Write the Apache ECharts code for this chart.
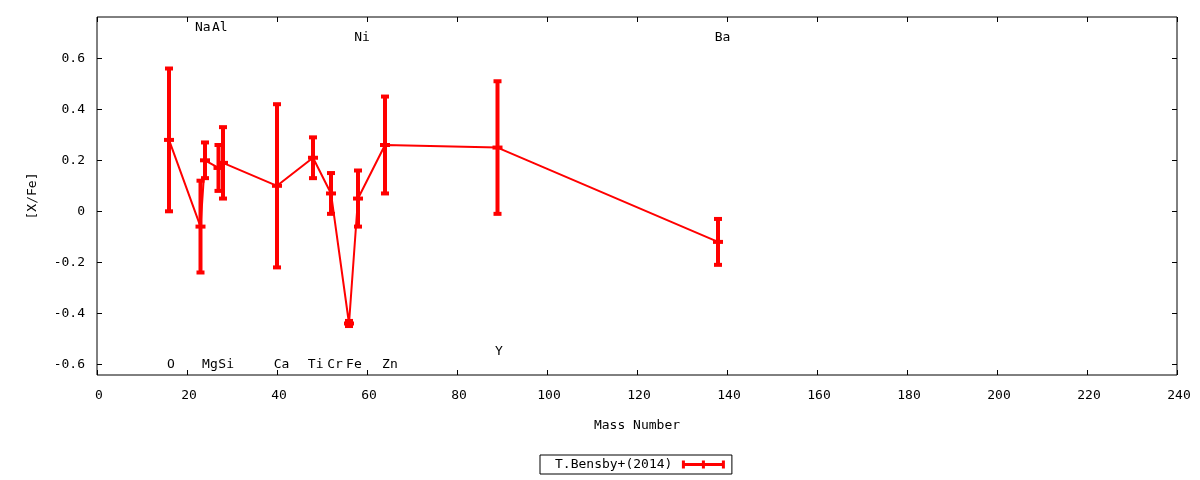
<!DOCTYPE html>
<html><head><meta charset="utf-8">
<script src="https://cdn.jsdelivr.net/npm/echarts@6/dist/echarts.min.js"></script>
<style>html,body{margin:0;padding:0;background:#fff}#c{width:1200px;height:480px}</style>
</head><body><div id="c"></div>
<script>
// Element data (mass number, [X/Fe], error)
const elements    = ['O','Na','Mg','Al','Si','Ca','Ti','Cr','Fe','Ni','Zn','Y','Ba'];
const massNumbers = [16, 23, 24, 27, 28, 40, 48, 52, 56, 58, 64, 89, 138];
const xFe         = [0.28, -0.06, 0.20, 0.17, 0.19, 0.10, 0.21, 0.07, -0.44, 0.05, 0.26, 0.25, -0.12];
const xFeErr      = [0.28, 0.18, 0.07, 0.09, 0.14, 0.32, 0.08, 0.08, 0.01, 0.11, 0.19, 0.26, 0.09];
// element label positions (data coords)
const labelX = [16.4, 23.5, 25.1, 27.3, 28.7, 41.0, 48.6, 52.9, 57.1, 58.9, 65.1, 89.3, 139.0];
const labelY = [-0.6, 0.72, -0.6, 0.72, -0.6, -0.6, -0.6, -0.6, -0.6, 0.68, -0.6, -0.55, 0.68];
// ticks
const xTicks = [0, 20, 40, 60, 80, 100, 120, 140, 160, 180, 200, 220, 240];
const yTicks = [-0.6, -0.4, -0.2, 0, 0.2, 0.4, 0.6];
const seriesName = 'T.Bensby+(2014)';

const FONT = 'DejaVu Sans Mono';
const RED = '#ff0000';
const chart = echarts.init(document.getElementById('c'), null, {renderer: 'canvas'});

const lineData = massNumbers.map((m, i) => [m, xFe[i]]);
const errData = massNumbers.map((m, i) => [m, xFe[i] - xFeErr[i], xFe[i] + xFeErr[i], xFe[i]]);
const labelData = elements.map((e, i) => [labelX[i], labelY[i], e]);

const tickStyle = {show: true, inside: true, length: 5, lineStyle: {color: '#000', width: 1}};
const noLine = {show: false, onZero: false};

chart.setOption({
  animation: false,
  backgroundColor: '#fff',
  grid: {left: 97, right: 23, top: 17, bottom: 105, show: true, borderColor: '#000', borderWidth: 1,
         backgroundColor: 'transparent', outerBoundsMode: 'none', containLabel: false},
  legend: {
    data: [{name: seriesName, icon: 'path://M0,0H3V2.5H20V0H23V2.5H40V0H43V8H40V5.5H23V8H20V5.5H3V8H0Z'}],
    left: 540, top: 455, padding: [3, 7, 3, 15],
    borderColor: '#000', borderWidth: 1, borderRadius: 0,
    itemWidth: 44, itemHeight: 8, align: 'right',
    selectedMode: false,
    textStyle: {fontFamily: FONT, fontSize: 13, color: '#000', padding: [0, 4, 0, 0]}
  },
  xAxis: [{
    type: 'value', min: 0, max: 240, interval: 20, position: 'bottom',
    name: 'Mass Number', nameLocation: 'middle', nameGap: 44,
    nameTextStyle: {fontFamily: FONT, fontSize: 13, color: '#000'},
    axisLine: noLine, axisTick: tickStyle, splitLine: {show: false},
    axisLabel: {fontFamily: FONT, fontSize: 13, color: '#000', margin: 14, padding: [0, 0, 0, 4]}
  }, {
    type: 'value', min: 0, max: 240, interval: 20, position: 'top',
    axisLine: noLine, axisTick: tickStyle, splitLine: {show: false},
    axisLabel: {show: false}
  }],
  yAxis: [{
    type: 'value', min: -0.642, max: 0.762, position: 'left',
    name: '[X/Fe]', nameLocation: 'middle', nameGap: 58, nameRotate: 90,
    nameTextStyle: {fontFamily: FONT, fontSize: 13, color: '#000'},
    axisLine: noLine, splitLine: {show: false},
    axisTick: Object.assign({}, tickStyle, {customValues: yTicks}),
    axisLabel: {fontFamily: FONT, fontSize: 13, color: '#000', margin: 12, customValues: yTicks,
      formatter: v => Math.abs(v) < 1e-9 ? '0' : String(+(+v).toFixed(1))}
  }, {
    type: 'value', min: -0.642, max: 0.762, position: 'right',
    axisLine: noLine, splitLine: {show: false},
    axisTick: Object.assign({}, tickStyle, {customValues: yTicks}),
    axisLabel: {show: false}
  }],
  series: [{
    type: 'line', name: 'line', data: lineData, xAxisIndex: 0, yAxisIndex: 0,
    symbol: 'none', lineStyle: {color: RED, width: 2}, itemStyle: {color: RED}, z: 2, silent: true
  }, {
    type: 'custom', name: seriesName, data: errData, xAxisIndex: 0, yAxisIndex: 0,
    itemStyle: {color: RED}, z: 3, silent: true,
    encode: {x: 0, y: [1, 2]},
    renderItem: function (params, api) {
      const x = api.value(0);
      const lo = api.coord([x, api.value(1)]);
      const hi = api.coord([x, api.value(2)]);
      const c = api.coord([x, api.value(3)]);
      const st = {fill: RED};
      return {type: 'group', children: [
        {type: 'rect', shape: {x: lo[0] - 2, y: hi[1], width: 4, height: lo[1] - hi[1]}, style: st},
        {type: 'rect', shape: {x: hi[0] - 4, y: hi[1] - 2, width: 8, height: 4}, style: st},
        {type: 'rect', shape: {x: lo[0] - 4, y: lo[1] - 2, width: 8, height: 4}, style: st},
        {type: 'rect', shape: {x: c[0] - 5, y: c[1] - 2, width: 10, height: 4}, style: st}
      ]};
    }
  }, {
    type: 'custom', name: 'labels', data: labelData, xAxisIndex: 0, yAxisIndex: 0, z: 4, silent: true,
    encode: {x: 0, y: 1},
    renderItem: function (params, api) {
      const p = api.coord([api.value(0), api.value(1)]);
      return {type: 'text', x: p[0], y: p[1], style: {
        text: labelData[params.dataIndex][2], fill: '#000',
        font: '13px "DejaVu Sans Mono"', align: 'center', verticalAlign: 'middle'}};
    }
  }]
});
</script>
</body></html>
